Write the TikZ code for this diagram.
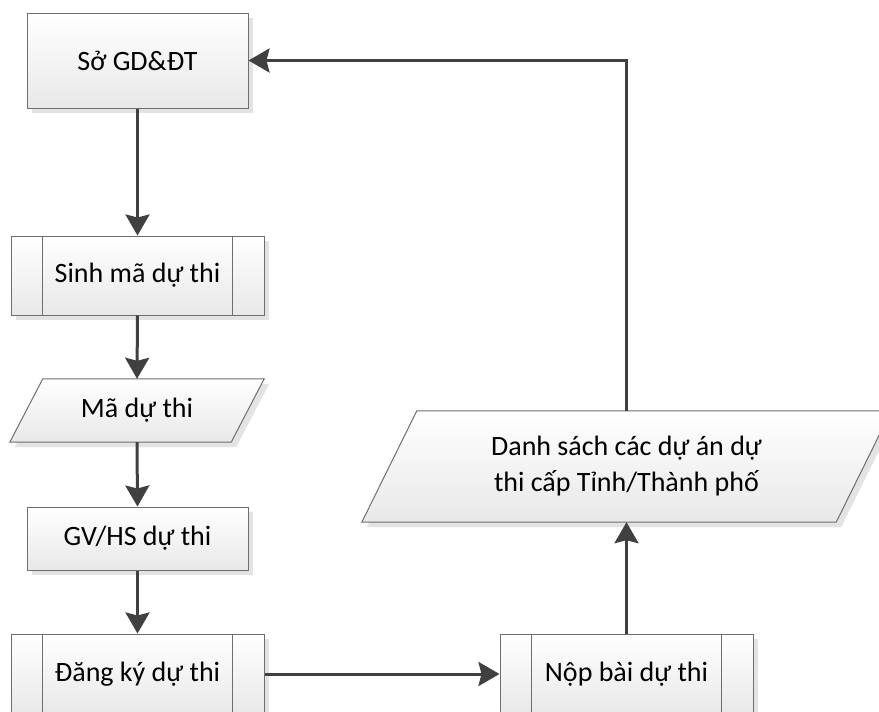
\documentclass[tikz,border=0pt]{standalone}
\usepackage{fontspec}
\setmainfont{Carlito}
\usetikzlibrary{arrows.meta,shadows,backgrounds}
\definecolor{lineC}{HTML}{404040}
\definecolor{borderC}{HTML}{6E6E6E}
\definecolor{shadowC}{HTML}{E3E3E3}
\begin{document}
\begin{tikzpicture}[x=1pt,y=-1pt,
  boxshadow/.style={drop shadow={shadow xshift=5pt,shadow yshift=-5pt,fill=shadowC,opacity=1}},
  fillgrad/.style={top color=white,bottom color=black!9},
  txt/.style={font=\fontsize{28}{36}\selectfont,inner sep=0pt,align=center},
  procbox/.style={txt,draw=borderC,line width=1pt,fillgrad,boxshadow},
  databox/.style={txt},
  datashape/.style={draw=borderC,line width=1pt,fillgrad,boxshadow},
  innerline/.style={draw=borderC,line width=1pt},
  conn/.style={draw=lineC,line width=3pt,-{Stealth[length=21pt,width=24pt,inset=3pt]}},
]
\useasboundingbox (0,0) rectangle (879,712);
\clip (0,0) rectangle (879,712);

% process boxes
\node[procbox,minimum width=221pt,minimum height=95pt] (sgd) at (137.5,60.5) {Sở GD\&ĐT};
\node[procbox,minimum width=253pt,minimum height=79pt] (sinh) at (137.5,275.5) {Sinh mã dự thi};
\draw[innerline] ([xshift=32pt]sinh.north west) -- ([xshift=32pt]sinh.south west);
\draw[innerline] ([xshift=-32pt]sinh.north east) -- ([xshift=-32pt]sinh.south east);

\node[databox,minimum width=221pt,minimum height=63pt] (ma) at (137,410.5) {Mã dự thi};
\begin{pgfonlayer}{background}
\path[datashape] ([xshift=16.5pt]ma.north west) -- ([xshift=16.5pt]ma.north east)
  -- ([xshift=-16.5pt]ma.south east) -- ([xshift=-16.5pt]ma.south west) -- cycle;
\end{pgfonlayer}

\node[procbox,minimum width=221pt,minimum height=63pt] (gv) at (137.5,538.5) {GV/HS dự thi};

\node[procbox,minimum width=253pt,minimum height=80pt] (dk) at (137.5,674) {Đăng ký dự thi};
\draw[innerline] ([xshift=32pt]dk.north west) -- ([xshift=32pt]dk.south west);
\draw[innerline] ([xshift=-32pt]dk.north east) -- ([xshift=-32pt]dk.south east);

\node[procbox,minimum width=253pt,minimum height=80pt] (nop) at (626.5,674) {Nộp bài dự thi};
\draw[innerline] ([xshift=32pt]nop.north west) -- ([xshift=32pt]nop.south west);
\draw[innerline] ([xshift=-32pt]nop.north east) -- ([xshift=-32pt]nop.south east);

\node[databox,minimum width=474pt,minimum height=111pt] (ds) at (626.5,466.5) {Danh sách các dự án dự\\thi cấp Tỉnh/Thành phố};
\begin{pgfonlayer}{background}
\path[datashape] ([xshift=27.5pt]ds.north west) -- ([xshift=27.5pt]ds.north east)
  -- ([xshift=-27.5pt]ds.south east) -- ([xshift=-27.5pt]ds.south west) -- cycle;
\end{pgfonlayer}

% connectors
\draw[conn] (sgd.south) -- (sinh.north);
\draw[conn] (sinh.south) -- (ma.north);
\draw[conn] (ma.south) -- (gv.north);
\draw[conn] (gv.south) -- (dk.north);
\draw[conn] (dk.east) -- (nop.west);
\draw[conn] (nop.north) -- (ds.south);
\draw[conn] (ds.north) |- (sgd.east);
\end{tikzpicture}
\end{document}
